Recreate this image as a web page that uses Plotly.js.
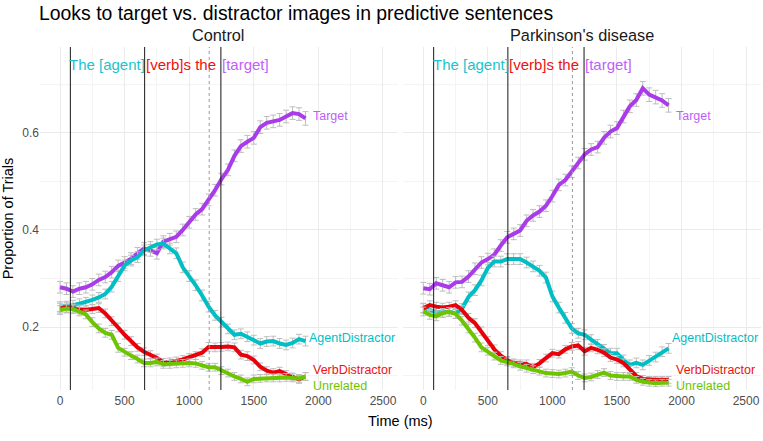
<!DOCTYPE html>
<html>
<head>
<meta charset="utf-8">
<script src="https://cdn.plot.ly/plotly-3.0.1.min.js"></script>
<style>html,body{margin:0;padding:0;background:#fff;}#chart{width:763px;height:441px;}</style>
</head>
<body>
<div id="chart"></div>
<script>
// ---------- data ----------
const time = [0,50,100,150,200,250,300,350,400,450,500,550,600,650,700,750,800,850,900,950,1000,1050,1100,1150,1200,1250,1300,1350,1400,1450,1500,1550,1600,1650,1700,1750,1800,1850,1900];

const panels = ["Control", "Parkinson's disease"];
const seriesNames = ["Target", "AgentDistractor", "VerbDistractor", "Unrelated"];

// Control
const targetControl = [.282,.279,.273,.279,.282,.288,.297,.303,.313,.326,.333,.341,.352,.362,.358,.352,.376,.381,.386,.400,.416,.432,.443,.462,.482,.505,.524,.553,.573,.582,.590,.612,.621,.624,.627,.634,.641,.639,.630];
const agentControl  = [.242,.243,.245,.248,.251,.256,.261,.268,.283,.305,.327,.337,.344,.358,.365,.370,.372,.362,.352,.323,.305,.286,.265,.242,.224,.210,.196,.184,.186,.180,.173,.166,.170,.171,.166,.163,.167,.175,.171];
const verbControl   = [.239,.240,.238,.236,.235,.237,.239,.228,.212,.199,.184,.171,.158,.149,.143,.136,.127,.128,.130,.133,.137,.141,.147,.159,.158,.159,.160,.158,.143,.140,.132,.118,.110,.106,.109,.102,.097,.092,.098];
const unrelControl  = [.235,.238,.237,.232,.226,.210,.197,.188,.184,.157,.148,.141,.134,.126,.126,.128,.123,.123,.124,.125,.126,.125,.121,.117,.117,.110,.105,.098,.093,.087,.093,.094,.095,.095,.095,.096,.095,.094,.098];

// Parkinson's disease
const targetPD = [.280,.278,.290,.286,.282,.292,.293,.304,.320,.333,.340,.349,.368,.385,.392,.399,.419,.430,.438,.450,.470,.493,.503,.520,.538,.556,.566,.571,.590,.603,.610,.634,.655,.668,.692,.679,.674,.667,.657];
const agentPD  = [.239,.234,.231,.230,.232,.228,.238,.262,.276,.296,.322,.335,.335,.340,.340,.340,.333,.325,.316,.302,.263,.240,.219,.197,.187,.184,.174,.164,.154,.146,.146,.132,.122,.126,.122,.131,.138,.149,.156];
const verbPD   = [.239,.245,.242,.240,.242,.245,.235,.219,.208,.191,.171,.154,.141,.131,.126,.124,.124,.117,.125,.136,.146,.144,.154,.160,.162,.150,.157,.153,.147,.137,.133,.126,.112,.099,.093,.091,.091,.091,.091];
const unrelPD  = [.232,.225,.222,.229,.231,.227,.213,.197,.178,.158,.150,.140,.131,.128,.124,.119,.115,.112,.109,.105,.104,.103,.105,.108,.100,.095,.097,.102,.106,.100,.098,.098,.098,.091,.087,.085,.084,.085,.085];

// standard errors (approximate)
const seTargetControl = [.012,.012,.012,.012,.012,.012,.012,.012,.012,.012,.012,.012,.012,.012,.012,.012,.012,.012,.012,.012,.012,.012,.012,.012,.012,.012,.012,.012,.013,.013,.013,.013,.013,.013,.013,.013,.013,.013,.014];
const seAgentControl  = [.010,.010,.010,.010,.010,.010,.010,.010,.011,.011,.011,.011,.011,.011,.011,.011,.011,.011,.011,.011,.011,.011,.011,.011,.010,.010,.010,.010,.010,.010,.010,.010,.010,.010,.010,.010,.010,.010,.010];
const seVerbControl   = [.010,.010,.009,.009,.009,.009,.009,.009,.009,.009,.009,.009,.008,.008,.008,.008,.008,.008,.008,.008,.008,.008,.008,.009,.009,.009,.009,.009,.009,.009,.008,.008,.008,.008,.008,.008,.008,.008,.008];
const seUnrelControl  = [.009,.009,.009,.009,.009,.009,.009,.009,.009,.009,.008,.008,.008,.008,.008,.008,.008,.008,.008,.008,.008,.008,.008,.008,.008,.008,.008,.008,.008,.008,.008,.008,.008,.008,.008,.008,.008,.008,.008];
const seTargetPD = [.012,.012,.012,.012,.012,.012,.012,.012,.012,.012,.012,.012,.012,.012,.012,.012,.012,.012,.012,.012,.012,.012,.012,.012,.012,.012,.012,.012,.013,.013,.013,.013,.013,.013,.014,.014,.014,.014,.014];
const seAgentPD  = [.010,.010,.010,.010,.010,.010,.010,.010,.011,.011,.011,.011,.011,.011,.011,.011,.011,.011,.011,.011,.011,.011,.011,.010,.010,.010,.010,.010,.010,.010,.010,.010,.010,.010,.010,.010,.010,.010,.010];
const seVerbPD   = [.009,.009,.009,.009,.009,.009,.009,.009,.009,.009,.009,.009,.008,.008,.008,.008,.008,.008,.008,.008,.008,.008,.008,.008,.008,.008,.008,.008,.008,.008,.008,.008,.008,.007,.007,.007,.007,.007,.007];
const seUnrelPD  = [.009,.009,.009,.009,.009,.009,.009,.009,.009,.009,.008,.008,.008,.008,.008,.008,.008,.008,.008,.008,.008,.008,.008,.008,.008,.008,.008,.008,.008,.008,.008,.008,.008,.007,.007,.007,.007,.007,.007];

// event markers (ms)
const solidEvents = [80, 655, 1245];
const dottedEvents = [1155];
const sentenceParts = ["The [agent]", "[verb]s the", "[target]"];
const sentenceY = 0.742;

// series labels
const labelX = [1950, 1920, 1950, 1950];
const labelY = [0.635, 0.177, 0.111, 0.0775];

const xTicks = [0, 500, 1000, 1500, 2000, 2500];
const yTicks = [0.2, 0.4, 0.6];
const yTickText = ["0.2", "0.4", "0.6"];

// ---------- styling ----------
const lineColors  = ["#A93BEA", "#00BFC4", "#E8000B", "#6CC500"];
const labelColors = ["#C060FA", "#00BFC4", "#EE1111", "#6CC500"];
const partColors  = ["#1CC3CC", "#EE1111", "#C060FA"];
const FONT = "Liberation Sans, Arial, sans-serif";

const values = [
  [targetControl, agentControl, verbControl, unrelControl],
  [targetPD, agentPD, verbPD, unrelPD]
];
const errs = [
  [seTargetControl, seAgentControl, seVerbControl, seUnrelControl],
  [seTargetPD, seAgentPD, seVerbPD, seUnrelPD]
];

const traces = [];
for (let p = 0; p < 2; p++) {
  for (let s = 0; s < 4; s++) {
    traces.push({
      type: "scatter", mode: "lines",
      x: time, y: values[p][s],
      xaxis: p === 0 ? "x" : "x2", yaxis: "y",
      name: seriesNames[s],
      line: {color: lineColors[s], width: 4},
      error_y: {type: "data", array: errs[p][s], visible: true, color: "#BDBDBD", thickness: 1, width: 3},
      hoverinfo: "skip"
    });
  }
}

const shapes = [];
const annotations = [];
for (let p = 0; p < 2; p++) {
  const xr = p === 0 ? "x" : "x2";
  solidEvents.forEach(t => shapes.push({type: "line", xref: xr, yref: "y domain", x0: t, x1: t, y0: 0, y1: 1, line: {color: "#1a1a1a", width: 1}}));
  dottedEvents.forEach(t => shapes.push({type: "line", xref: xr, yref: "y domain", x0: t, x1: t, y0: 0, y1: 1, line: {color: "#9a9a9a", width: 1, dash: "dot"}}));
  sentenceParts.forEach((txt, i) => annotations.push({
    xref: xr, yref: "y", x: solidEvents[i], y: sentenceY, text: txt, showarrow: false,
    xanchor: "left", yanchor: "middle", xshift: i === 0 ? -2 : 0, borderpad: 0,
    font: {family: FONT, size: 15, color: partColors[i]}
  }));
  seriesNames.forEach((nm, s) => annotations.push({
    xref: xr, yref: "y", x: labelX[s], y: labelY[s], text: nm, showarrow: false,
    xanchor: "left", yanchor: "middle", borderpad: 0,
    font: {family: FONT, size: 12.5, color: labelColors[s]}
  }));
  annotations.push({
    xref: xr + " domain", yref: "paper", x: 0.5, y: 1.035, text: panels[p], showarrow: false,
    xanchor: "center", yanchor: "middle", font: {family: FONT, size: 16.3, color: "#1a1a1a"}
  });
}
annotations.push({
  xref: "paper", yref: "paper", x: 0.5, y: -0.09, text: "Time (ms)", showarrow: false,
  xanchor: "center", yanchor: "middle", font: {family: FONT, size: 14.5, color: "#000"}
});

const xCommon = {
  range: [-155, 2616], tickvals: xTicks, showgrid: true, gridcolor: "#EBEBEB", gridwidth: 1,
  zeroline: false, showline: false, ticks: "", anchor: "y", ticklabelstandoff: 2,
  tickfont: {family: FONT, size: 12, color: "#4D4D4D"},
  minor: {dtick: 250, tick0: 0, showgrid: true, gridcolor: "#F4F4F4", gridwidth: 1, ticks: ""}
};

const layout = {
  width: 763, height: 441,
  margin: {l: 40, r: 2, t: 47, b: 51},
  paper_bgcolor: "#fff", plot_bgcolor: "#fff",
  showlegend: false,
  font: {family: FONT},
  title: {text: "Looks to target vs. distractor images in predictive sentences",
          x: 39/763, xanchor: "left", y: 1 - 13/441, yanchor: "middle",
          font: {family: FONT, size: 19.4, color: "#000"}},
  xaxis: Object.assign({}, xCommon, {domain: [0, 0.4965]}),
  xaxis2: Object.assign({}, xCommon, {domain: [0.5039, 1]}),
  yaxis: {
    range: [0.0701, 0.7773], tickvals: yTicks, ticktext: yTickText,
    showgrid: true, gridcolor: "#EBEBEB", zeroline: false, showline: false, ticks: "",
    tickfont: {family: FONT, size: 12, color: "#4D4D4D"},
    minor: {dtick: 0.1, tick0: 0, showgrid: true, gridcolor: "#F4F4F4", gridwidth: 1, ticks: ""},
    title: {text: "Proportion of Trials", font: {family: FONT, size: 14.5, color: "#000"}, standoff: 6}
  },
  shapes: shapes,
  annotations: annotations
};

Plotly.newPlot("chart", traces, layout, {staticPlot: true, displayModeBar: false});
</script>
</body>
</html>
